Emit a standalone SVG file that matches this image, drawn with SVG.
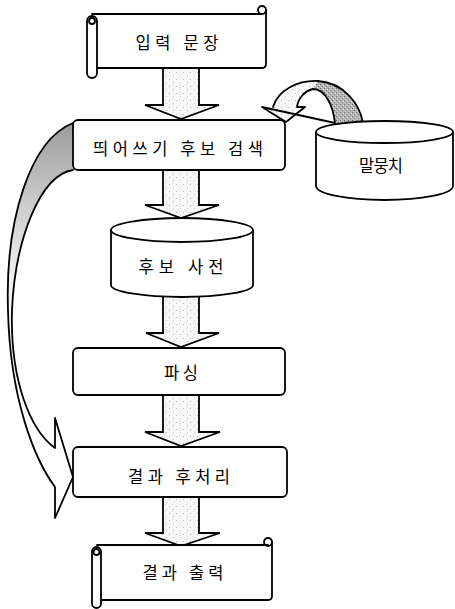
<svg xmlns="http://www.w3.org/2000/svg" width="455" height="609" viewBox="0 0 455 609">
<style>
.ln{fill:none;stroke:#000;stroke-width:1.8;stroke-linejoin:round;stroke-linecap:round}
.nd{fill:#fff;stroke:#000;stroke-width:1.8;stroke-linejoin:round}
.ar{fill:url(#speck);stroke:#000;stroke-width:1.8;stroke-linejoin:miter}
.tx{font-family:"Noto Sans CJK KR","Noto Sans",sans-serif;font-size:16.5px;fill:#000;text-anchor:middle;dominant-baseline:central}
</style>
<defs>
<pattern id="speck" width="7" height="7" patternUnits="userSpaceOnUse">
<rect width="7" height="7" fill="#f7f7f7"/>
<rect x="1" y="2" width="1" height="1" fill="#bbb"/>
<rect x="5" y="5" width="1" height="1" fill="#ccc"/>
<rect x="4" y="0" width="1" height="1" fill="#ddd"/>
</pattern>
<pattern id="dark" width="4" height="4" patternUnits="userSpaceOnUse">
<rect width="4" height="4" fill="#b4b4b4"/>
<rect x="0" y="0" width="1" height="1" fill="#666"/>
<rect x="2" y="2" width="1" height="1" fill="#777"/>
<rect x="3" y="1" width="1" height="1" fill="#eee"/>
<rect x="1" y="3" width="1" height="1" fill="#ddd"/>
</pattern>
<linearGradient id="fade" x1="0" y1="120" x2="0" y2="340" gradientUnits="userSpaceOnUse">
<stop offset="0" stop-color="#9a9a9a"/>
<stop offset="0.35" stop-color="#c8c8c8"/>
<stop offset="0.7" stop-color="#eeeeee"/>
<stop offset="1" stop-color="#ffffff"/>
</linearGradient>
</defs>

<g id="connectors">
<path class="ar" d="M163,66 V105 H145 L181,119 L219,105 H199 V66 Z"/>
<path class="ar" d="M163,170 V205 H145 L181,218 L219,205 H199 V170 Z"/>
<path class="ar" d="M163,290 V333 H146 L181,347 L219,333 H199 V290 Z"/>
<path class="ar" d="M163,395 V432 H145 L181,446 L220,432 H199 V395 Z"/>
<path class="ar" d="M163,497 V533 H145 L181,546 L220,533 H199 V497 Z"/>
<!-- curved arrow from 말뭉치 to 띄어쓰기 후보 검색 -->
<path d="M273,107 C278,90 298,80 318,81 C345,83 360,105 363,123 L335,123 C333,105 325,89 313,89 C304,91 298,99 297,107 H305 L286,122 L262,107 Z" fill="url(#speck)" stroke="none"/>
<path d="M318,81 C345,83 360,105 363,123 L335,123 C333,105 325,89 313,89 Z" fill="url(#dark)" stroke="none"/>
<path class="ln" d="M273,107 C278,90 298,80 318,81 C345,83 360,105 363,123 M335,123 C333,105 325,89 313,89 C304,91 298,99 297,107 H305 L286,122 L262,107 Z"/>
<!-- big curved arrow from 띄어쓰기 후보 검색 to 결과 후처리 -->
<path d="M73,123 C30,140 5,220 8,310 C10,400 35,460 55,487 L55,518 L73,477 L55,418 L55,448 C30,430 10,380 12,310 C15,240 40,175 73,170 Z" fill="url(#fade)" stroke="none"/>
<path class="ln" d="M73,123 C30,140 5,220 8,310 C10,400 35,460 55,487 L55,518 L73,477 L55,418 L55,448 C30,430 10,380 12,310 C15,240 40,175 73,170"/>
</g>

<g id="input">
<rect x="95" y="14" width="171" height="54" fill="#fff"/>
<path class="ln" d="M92,14 H262 M266,10 V64 Q266,68 262,68 H97"/>
<circle cx="262" cy="10" r="4" class="ln"/>
<rect x="87" y="16" width="10" height="62" rx="5" class="nd"/>
<circle cx="92" cy="21" r="3" class="ln"/>
<text class="tx" x="177" y="42" textLength="83" lengthAdjust="spacing">입력 문장</text>
</g>

<g id="search">
<rect x="73" y="120" width="212" height="50" rx="5" class="nd"/>
<text class="tx" x="178" y="148" textLength="170" lengthAdjust="spacing">띄어쓰기 후보 검색</text>
</g>

<g id="corpus">
<path class="nd" d="M316,132 V186 A68.5,14 0 0 0 453,186 V132"/>
<ellipse cx="384.5" cy="132" rx="68.5" ry="11" class="nd"/>
<text class="tx" x="381" y="165" textLength="44" lengthAdjust="spacing">말뭉치</text>
</g>

<g id="dict">
<path class="nd" d="M111,230 V285 A71,12 0 0 0 253,285 V230"/>
<ellipse cx="182" cy="230" rx="71" ry="12" class="nd"/>
<text class="tx" x="181" y="266" textLength="85" lengthAdjust="spacing">후보 사전</text>
</g>

<g id="parse">
<rect x="73" y="348" width="212" height="47" rx="5" class="nd"/>
<text class="tx" x="181" y="372" textLength="34" lengthAdjust="spacing">파싱</text>
</g>

<g id="post">
<rect x="73" y="447" width="214" height="50" rx="5" class="nd"/>
<text class="tx" x="179" y="476" textLength="102" lengthAdjust="spacing">결과 후처리</text>
</g>

<g id="output">
<rect x="99" y="545" width="173" height="55" fill="#fff"/>
<path class="ln" d="M97,545 H268 M272,542 V596 Q272,600 268,600 H101"/>
<circle cx="268" cy="542" r="4" class="ln"/>
<rect x="92" y="547" width="9" height="61" rx="4.5" class="nd"/>
<circle cx="96.5" cy="552" r="3" class="ln"/>
<text class="tx" x="183" y="572" textLength="81" lengthAdjust="spacing">결과 출력</text>
</g>
</svg>
